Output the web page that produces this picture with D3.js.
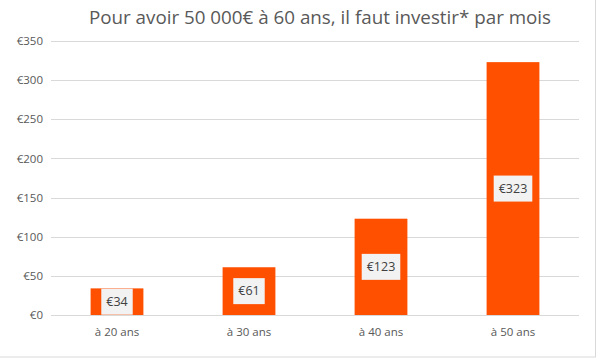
<!DOCTYPE html>
<html>
<head>
<meta charset="utf-8">
<script src="https://cdn.jsdelivr.net/npm/d3@7"></script>
<style>
  body { margin: 0; background: #fff; }
  svg { display: block; font-family: "Open Sans", "DejaVu Sans", sans-serif; }
</style>
</head>
<body>
<svg id="chart" width="597" height="362"></svg>
<script>
const title = 'Pour avoir 50 000€ à 60 ans, il faut investir* par mois';
const categories = ['à 20 ans', 'à 30 ans', 'à 40 ans', 'à 50 ans'];
const values = [34, 61, 123, 323];
const yTicks = [0, 50, 100, 150, 200, 250, 300, 350];

const W = 597, H = 362;
const margin = { top: 41, right: 18, bottom: 47, left: 51 };

const svg = d3.select('#chart');

// chart frame
svg.append('rect')
  .attr('x', -1).attr('y', -1)
  .attr('width', 596.5).attr('height', 358)
  .attr('fill', 'none')
  .attr('stroke', '#d9d9d9');

svg.append('text')
  .attr('x', 320).attr('y', 24)
  .attr('text-anchor', 'middle')
  .attr('font-size', 18.8)
  .attr('fill', '#595959')
  .text(title);

const x = d3.scaleBand()
  .domain(categories)
  .range([margin.left, W - margin.right])
  .paddingInner(0.6)
  .paddingOuter(0.3);

const y = d3.scaleLinear()
  .domain([0, 350])
  .range([H - margin.bottom, margin.top]);

// gridlines
svg.append('g')
  .selectAll('line')
  .data(yTicks)
  .join('line')
  .attr('x1', margin.left).attr('x2', W - margin.right)
  .attr('y1', d => Math.round(y(d)) + 0.5).attr('y2', d => Math.round(y(d)) + 0.5)
  .attr('stroke', '#d9d9d9');

// y axis labels
const yAxis = svg.append('g')
  .attr('transform', `translate(${margin.left - 8},0)`)
  .call(d3.axisLeft(y).tickValues(yTicks).tickFormat(d => '€' + d).tickSize(0).tickPadding(0));
yAxis.select('.domain').remove();
yAxis.selectAll('text')
  .attr('font-size', 11.5)
  .attr('fill', '#595959')
  .attr('font-family', '"Open Sans", "DejaVu Sans", sans-serif');

// x axis labels
const xAxis = svg.append('g')
  .attr('transform', `translate(0,${H - margin.bottom + 13})`)
  .call(d3.axisBottom(x).tickSize(0).tickPadding(0));
xAxis.select('.domain').remove();
xAxis.selectAll('text')
  .attr('font-size', 11.5)
  .attr('fill', '#595959')
  .attr('font-family', '"Open Sans", "DejaVu Sans", sans-serif');

// bars
svg.append('g')
  .selectAll('rect')
  .data(values)
  .join('rect')
  .attr('x', (d, i) => x(categories[i]))
  .attr('y', d => y(d))
  .attr('width', x.bandwidth())
  .attr('height', d => y(0) - y(d))
  .attr('fill', '#ff5000');

// data labels
const labels = svg.append('g')
  .selectAll('g')
  .data(values)
  .join('g')
  .attr('transform', (d, i) => `translate(${x(categories[i]) + x.bandwidth() / 2},${(y(d) + y(0)) / 2})`);

labels.append('text')
  .attr('text-anchor', 'middle')
  .attr('dy', '0.35em')
  .attr('font-size', 12.5)
  .attr('fill', '#404040')
  .text(d => '€' + d);

labels.insert('rect', 'text')
  .each(function () {
    const t = d3.select(this.parentNode).select('text').node().getBBox();
    d3.select(this)
      .attr('x', t.x - 5).attr('y', -13)
      .attr('width', t.width + 10).attr('height', 26)
      .attr('fill', '#f2f2f2');
  });
</script>
</body>
</html>
